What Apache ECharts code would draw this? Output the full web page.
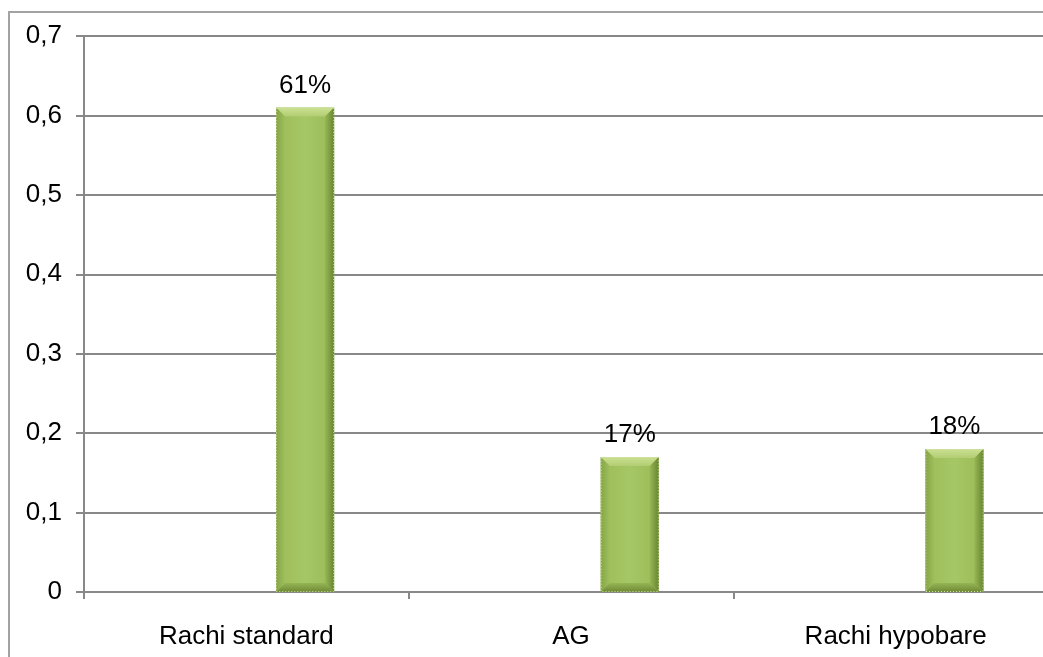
<!DOCTYPE html>
<html>
<head>
<meta charset="utf-8">
<title>Rachi standard / AG / Rachi hypobare</title>
<script src="https://cdn.jsdelivr.net/npm/echarts@6/dist/echarts.min.js"></script>
<style>
  html, body { margin: 0; padding: 0; background: #fff; overflow: hidden; width: 1043px; height: 657px; }
  /* the plot runs on past the right edge of the page */
  #chart { width: 1058px; height: 657px; }
</style>
</head>
<body>
<div id="chart"></div>
<script>
// Share of each anaesthesia technique
const categories = ['Rachi standard', 'AG', 'Rachi hypobare'];
const shares = [0.61, 0.17, 0.18];

// Value axis settings
const yMin = 0;
const yMax = 0.7;
const yStep = 0.1;

const FONT = "'Liberation Sans', Arial, sans-serif";
const GRID_GREY = '#888888';

function grad(x2, y2, stops) {
  return {
    type: 'linear', x: 0, y: 0, x2: x2, y2: y2,
    colorStops: stops.map(s => ({ offset: s[0], color: s[1] }))
  };
}

// Bevelled green column, placed in the right part of its category band
function renderBevelBar(params, api) {
  const idx = api.value(0);
  const v = api.value(1);
  const band = api.size([1, 0])[0];
  const top = api.coord([idx, v]);
  const base = api.coord([idx, 0]);
  const w = band * 0.179;
  const cx = top[0] + band * 0.181;
  const x0 = cx - w / 2, x1 = cx + w / 2;
  const y0 = top[1], y1 = base[1];
  const b = Math.min(9, (y1 - y0) / 2);
  const pct = Math.round(v * 100) + '%';

  return {
    type: 'group',
    children: [
      {
        type: 'rect',
        shape: { x: x0, y: y0, width: w, height: y1 - y0 },
        style: { fill: grad(1, 0, [[0, '#9cbc59'], [0.5, '#a6c765'], [1, '#9aba57']]) },
        textContent: {
          style: { text: pct, fontSize: 26, fontFamily: FONT, fill: '#000' }
        },
        textConfig: { position: 'top', distance: 9 }
      },
      {
        type: 'polygon',
        shape: { points: [[x0, y0], [x1, y0], [x1 - b, y0 + b], [x0 + b, y0 + b]] },
        style: { fill: grad(0, 1, [[0, '#cbe192'], [1, '#b2cd73']]) }
      },
      {
        type: 'polygon',
        shape: { points: [[x0, y0], [x0 + b, y0 + b], [x0 + b, y1 - b], [x0, y1]] },
        style: { fill: grad(1, 0, [[0, '#86a547'], [1, '#9fbf5c']]) }
      },
      {
        type: 'polygon',
        shape: { points: [[x1, y0], [x1, y1], [x1 - b, y1 - b], [x1 - b, y0 + b]] },
        style: { fill: grad(1, 0, [[0, '#96b655'], [1, '#68852f']]) }
      },
      {
        type: 'polygon',
        shape: { points: [[x0, y1], [x0 + b, y1 - b], [x1 - b, y1 - b], [x1, y1]] },
        style: { fill: grad(0, 1, [[0, '#95b455'], [1, '#6e8a35']]) }
      },
      {
        type: 'rect',
        shape: { x: x0 + 0.5, y: y0 + 0.5, width: w - 1, height: y1 - y0 - 1 },
        style: { fill: null, stroke: '#d3dfb0', lineWidth: 1, lineDash: [1, 2] }
      }
    ]
  };
}

const chart = echarts.init(document.getElementById('chart'), null, { renderer: 'canvas' });

chart.setOption({
  animation: false,
  backgroundColor: '#ffffff',
  grid: { left: 84, top: 36, right: 0, bottom: 65, containLabel: false },
  graphic: [
    {
      type: 'rect',
      shape: { x: 9, y: 12, width: 1100, height: 720 },
      style: { fill: null, stroke: '#a3a3a3', lineWidth: 2 },
      silent: true
    }
  ],
  xAxis: {
    type: 'category',
    data: categories,
    boundaryGap: true,
    axisLine: { show: true, lineStyle: { color: GRID_GREY, width: 2 } },
    axisTick: { show: true, length: 7, inside: false, lineStyle: { color: GRID_GREY, width: 2 } },
    axisLabel: { color: '#000', fontSize: 26, fontFamily: FONT, margin: 32, interval: 0 },
    splitLine: { show: false }
  },
  yAxis: {
    type: 'value',
    min: yMin,
    max: yMax,
    interval: yStep,
    axisLine: { show: true, lineStyle: { color: GRID_GREY, width: 2 } },
    axisTick: { show: true, length: 8, lineStyle: { color: GRID_GREY, width: 2 } },
    axisLabel: {
      color: '#000', fontSize: 26, fontFamily: FONT, margin: 22,
      padding: [10, 0, 0, 0],
      formatter: v => (v === 0 ? '0' : v.toFixed(1).replace('.', ','))
    },
    splitLine: { show: true, lineStyle: { color: GRID_GREY, width: 2 } }
  },
  series: [
    {
      type: 'custom',
      renderItem: renderBevelBar,
      encode: { x: 0, y: 1 },
      data: shares.map((v, i) => [i, v]),
      clip: false
    }
  ]
});
</script>
</body>
</html>
